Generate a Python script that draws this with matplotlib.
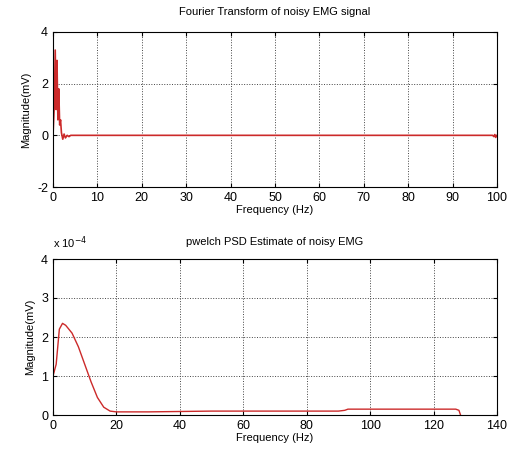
import matplotlib.pyplot as plt

plt.rcParams['font.family'] = ['Liberation Sans', 'DejaVu Sans']
plt.rcParams['axes.unicode_minus'] = False

# Fourier transform of noisy EMG signal
fft_freq = [0, 0.3, 0.5, 0.7, 0.9, 1.1, 1.3, 1.5, 1.7, 1.9, 2.2, 2.5, 2.8, 3.2, 3.6, 4.0, 4.5, 5, 20, 50, 80, 98, 99, 99.3, 99.5, 99.7, 100]
fft_mag = [0.0, 1.2, 3.3, 1.0, 2.9, 0.6, 1.8, 0.4, 0.6, 0.1, -0.15, 0.05, -0.1, 0.0, -0.05, 0.0, 0.0, 0.0, 0.0, 0.0, 0.0, 0.0, 0.0, -0.05, 0.03, -0.08, 0.0]

# pwelch PSD estimate (x 1e-4)
psd_freq = [0, 1, 2, 3, 4, 6, 8, 10, 12, 14, 16, 18, 20, 30, 50, 70, 90, 92, 93, 110, 127, 128, 128.5]
psd_mag = [1.0, 1.3, 2.2, 2.35, 2.3, 2.1, 1.75, 1.3, 0.85, 0.45, 0.2, 0.1, 0.08, 0.08, 0.1, 0.1, 0.1, 0.12, 0.15, 0.15, 0.15, 0.12, 0.0]

line_color = '#cc2a2a'

fig = plt.figure(figsize=(5.07, 4.61), dpi=100)

# Create top graph
ax1 = fig.add_axes([53/507, 1 - 187/461, 444/507, 155/461])
ax1.plot(fft_freq, fft_mag, color=line_color, linewidth=1.2)
ax1.set_xlim(0, 100)
ax1.set_ylim(-2, 4)
ax1.set_xticks(range(0, 101, 10))
ax1.set_yticks([-2, 0, 2, 4])
ax1.grid(True, linestyle=':', color='#444444', linewidth=0.7)
ax1.set_xlabel('Frequency (Hz)', fontsize=8, labelpad=1)
ax1.set_ylabel('Magnitude(mV)', fontsize=8)
ax1.set_title('Fourier Transform of noisy EMG signal', fontsize=8, pad=12)

# Create bottom graph
ax2 = fig.add_axes([53/507, 1 - 415/461, 444/507, 156/461])
ax2.plot(psd_freq, [v * 1e-4 for v in psd_mag], color=line_color, linewidth=1)
ax2.set_xlim(0, 140)
ax2.set_ylim(0, 4e-4)
ax2.set_xticks(range(0, 141, 20))
ax2.set_yticks([0, 1e-4, 2e-4, 3e-4, 4e-4])
ax2.set_yticklabels(['0', '1', '2', '3', '4'])
ax2.grid(True, linestyle=':', color='#444444', linewidth=0.7)
ax2.set_xlabel('Frequency (Hz)', fontsize=8, labelpad=1)
ax2.set_ylabel('Magnitude(mV)', fontsize=8)
ax2.set_title('pwelch PSD Estimate of noisy EMG', fontsize=8, pad=10)
ax2.text(0, 1.05, r'x 10$^{-4}$', transform=ax2.transAxes, fontsize=8, va='bottom')

for ax in (ax1, ax2):
    ax.tick_params(labelsize=9, direction='in', top=True, right=True, length=3)

fig.savefig('out.png', dpi=100)
